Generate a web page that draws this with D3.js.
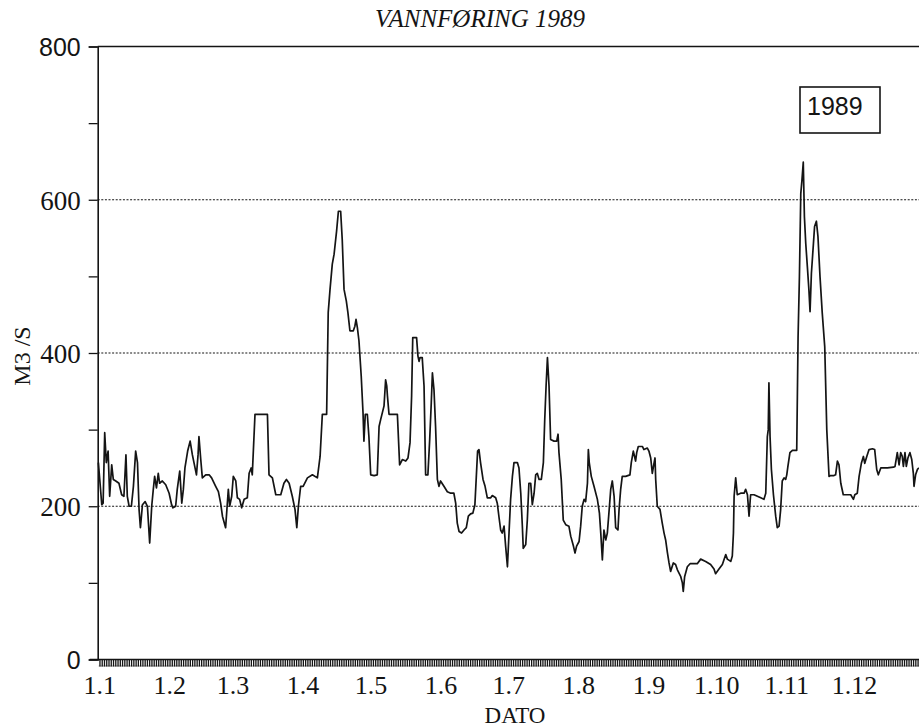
<!DOCTYPE html>
<html>
<head>
<meta charset="utf-8">
<script src="https://cdn.jsdelivr.net/npm/d3@7"></script>
<style>
  html, body { margin: 0; padding: 0; background: #fff; }
  svg { display: block; }
</style>
</head>
<body>
<svg id="chart" width="919" height="728"></svg>
<script>
// ---- data (day of year 1989, daily discharge m3/s) ----
const days = [
  0.3,0.9,1.8,2.4,3.1,3.8,4.6,5.3,6.2,6.9,8.0,9.4,10.6,11.6,12.5,13.1,13.9,14.9,15.8,16.8,
  17.6,18.3,18.9,19.8,21.0,22.0,23.0,23.9,24.6,25.2,26.0,26.8,27.4,28.6,30.1,31.6,32.7,33.3,34.5,35.2,
  36.3,37.2,37.9,38.6,39.8,40.9,41.9,42.8,43.7,44.4,44.8,45.6,46.3,47.8,49.3,50.4,52.2,53.4,54.4,55.2,
  56.6,57.8,58.4,59.3,60.0,61.1,61.8,62.8,63.7,64.8,66.2,67.0,67.9,68.4,69.6,75.1,75.8,77.3,78.8,81.0,
  82.4,83.5,84.7,86.1,87.3,88.1,88.8,89.8,90.9,
  92.8,95.0,97.2,98.4,99.4,101.3,102.0,102.8,103.8,104.6,105.7,106.5,107.5,108.2,109.0,110.0,110.7,111.6,
  113.1,113.8,114.3,114.9,115.6,116.6,117.4,117.8,118.4,119.3,120.0,120.8,122.3,123.7,124.5,125.2,126.7,
  127.4,127.9,128.2,128.9,132.6,133.6,134.8,136.3,137.3,138.2,138.9,139.4,141.1,141.7,142.2,142.6,143.6,
  144.4,145.1,146.1,146.9,147.6,148.1,148.8,149.5,
  150.3,151.0,151.7,153.2,154.7,156.2,157.6,158.4,159.1,159.9,161.0,162.1,163.1,164.0,165.0,166.0,166.9,
  167.5,168.1,168.7,169.4,170.5,171.4,172.4,173.9,174.6,176.1,176.8,177.6,
  178.3,179.0,179.8,180.5,181.3,182.0,182.7,183.5,184.2,185.7,186.4,187.2,187.9,188.3,189.4,190.1,190.8,
  191.6,192.3,193.1,193.8,194.5,195.3,196.3,197.2,197.8,198.4,199.0,199.7,200.4,201.9,203.1,203.7,204.1,
  205.1,206.0,207.1,208.5,209.3,210.5,211.2,211.9,213.0,213.7,214.4,215.2,215.9,216.7,217.1,217.5,218.4,
  219.6,221.1,222.0,222.6,223.3,224.0,224.8,225.5,226.2,227.0,227.7,228.5,229.2,230.2,230.7,231.4,232.1,
  233.6,235.5,236.1,237.0,237.7,238.0,238.5,239.2,241.0,241.7,243.2,243.9,244.7,245.4,246.2,246.6,246.9,
  247.6,248.8,249.8,250.6,251.3,252.1,252.8,253.5,254.7,255.7,256.5,258.0,258.7,259.1,259.7,260.9,262.1,265.3,
  266.8,269.0,271.2,272.7,273.4,274.9,276.4,277.9,278.6,280.1,280.8,281.3,281.6,282.3,283.0,284.5,286.0,
  286.7,287.5,288.2,288.9,290.4,291.9,293.4,294.8,295.6,296.3,296.7,297.0,297.5,298.1,299.0,300.0,300.7,
  301.5,302.2,302.9,303.7,304.4,304.9,305.4,306.3,307.4,309.3,309.9,310.5,311.1,311.6,312.2,312.7,313.3,
  314.0,314.7,315.2,315.8,316.7,317.2,318.0,318.7,319.6,320.6,321.7,322.6,323.6,324.3,325.8,326.5,327.3,
  328.0,328.8,329.9,331.7,333.2,334.4,335.0,336.1,336.9,337.9,338.8,339.4,340.3,341.3,342.8,343.8,344.7,
  345.4,346.5,349.4,352.1,352.8,353.8,354.6,355.3,356.0,356.5,357.2,357.8,358.5,359.4,360.2,360.9,361.2,
  361.9,362.7,363.4
];
const flow = [
  257,235,202,204,296,257,272,213,254,235,233,230,215,213,267,213,200,200,226,272,
  257,196,172,202,206,200,152,200,222,239,224,243,230,233,228,217,202,198,200,222,
  246,204,222,250,272,285,267,254,241,267,291,261,237,241,241,237,226,219,204,187,
  172,222,200,213,239,233,211,209,198,209,211,243,250,241,320,320,241,237,215,215,
  230,235,230,213,196,172,200,226,226,
  237,241,237,265,320,320,453,483,516,529,559,585,585,548,483,468,453,429,
  429,435,444,433,416,370,322,285,320,320,291,241,240,241,304,313,331,
  365,357,344,320,320,254,261,259,263,283,344,420,420,396,389,394,394,
  357,241,241,287,335,374,352,304,
  235,226,233,226,219,217,217,204,178,167,165,169,172,187,190,191,202,
  237,272,274,257,235,226,211,211,214,211,204,185,
  169,165,174,148,121,165,209,239,257,257,250,217,174,145,150,182,230,
  230,202,217,241,243,235,235,257,313,357,394,357,287,285,285,294,270,
  235,182,176,174,161,148,139,148,154,174,200,209,206,230,274,257,239,
  226,209,191,165,130,169,156,165,191,222,233,213,172,169,196,222,239,
  239,241,257,272,263,259,270,278,278,274,276,272,263,243,257,263,235,
  200,196,178,165,156,139,126,115,126,124,117,108,100,89,108,121,125,125,
  131,128,124,118,112,118,124,137,131,128,135,165,213,237,215,217,217,
  222,215,187,215,215,213,211,209,217,291,300,361,291,248,215,187,172,
  174,196,233,237,235,241,252,270,273,273,421,500,608,625,649,578,543,
  513,482,454,504,543,565,572,552,500,452,408,300,239,240,240,241,259,
  254,230,215,215,215,209,215,217,239,256,265,256,265,274,275,274,248,
  241,250,250,251,252,270,254,270,265,252,270,252,263,270,261,243,226,
  241,248,250
];
const monthStartDays = [0,31,59,90,120,151,181,212,243,273,304,334];
const monthLabels = ["1.1","1.2","1.3","1.4","1.5","1.6","1.7","1.8","1.9","1.10","1.11","1.12"];
const yTickValues = [0,100,200,300,400,500,600,700,800];
const yLabelValues = [0,200,400,600,800];
const gridValues = [200,400,600];
const titleText = "VANNFØRING 1989";
const xTitle = "DATO";
const yTitle = "M3 /S";
const legendText = "1989";

// ---- drawing ----
const svg = d3.select("#chart");
svg.append("rect").attr("width",919).attr("height",728).attr("fill","#fff");

const x = d3.scaleLinear().domain([0,365]).range([97.7, 922.6]);
const y = d3.scaleLinear().domain([0,800]).range([659.5, 46.5]);

const ink = "#141414";

// dotted gridlines
svg.append("g").selectAll("line").data(gridValues).join("line")
  .attr("x1", x(0)).attr("x2", 919)
  .attr("y1", d=>y(d)).attr("y2", d=>y(d))
  .attr("stroke", ink).attr("stroke-width", 1.1)
  .attr("stroke-dasharray", "2,1.6");

// top 800 line (solid)
svg.append("line").attr("x1", x(0)).attr("x2", 919)
  .attr("y1", y(800)).attr("y2", y(800))
  .attr("stroke", ink).attr("stroke-width", 1.6);

// y axis with ticks
const yAxis = d3.axisLeft(y).tickValues(yTickValues).tickSize(9).tickPadding(8)
  .tickFormat(d => yLabelValues.includes(d) ? String(d) : "");
const gy = svg.append("g").attr("transform", `translate(${x(0)},0)`).call(yAxis);
gy.select(".domain").attr("stroke", ink).attr("stroke-width", 1.6);
gy.selectAll(".tick line").attr("stroke", ink).attr("stroke-width", 1.3);
gy.selectAll(".tick text")
  .attr("fill", ink)
  .style("font-family", d => (d===800||d===0) ? "'Liberation Sans', Arial, sans-serif" : "'Liberation Serif', 'Times New Roman', serif")
  .style("font-size", d => (d===800||d===0) ? "25px" : "27px")
  .attr("dy", "0.36em");

// x axis line
svg.append("line").attr("x1", x(0) - 8).attr("x2", 919)
  .attr("y1", y(0)).attr("y2", y(0))
  .attr("stroke", ink).attr("stroke-width", 1.6);

// daily tick band
svg.append("g").selectAll("line").data(d3.range(1, 366)).join("line")
  .attr("x1", d=>x(d)).attr("x2", d=>x(d))
  .attr("y1", y(0)).attr("y2", y(0) + 7)
  .attr("stroke", ink).attr("stroke-width", 1.3);
svg.append("line").attr("x1", x(0)+1).attr("x2", 919)
  .attr("y1", y(0)+6.5).attr("y2", y(0)+6.5)
  .attr("stroke", ink).attr("stroke-width", 0.8).attr("opacity", 0.6);

// month labels
svg.append("g").selectAll("text").data(monthStartDays).join("text")
  .attr("x", d=>x(d) + 2).attr("y", 694)
  .attr("text-anchor", "middle")
  .attr("fill", ink)
  .style("font-family", "'Liberation Serif', 'Times New Roman', serif")
  .style("font-size", "26px")
  .text((d,i)=>monthLabels[i]);

// axis titles
svg.append("text").attr("x", 515).attr("y", 723)
  .attr("text-anchor", "middle").attr("fill", ink)
  .style("font-family", "'Liberation Serif', 'Times New Roman', serif")
  .style("font-size", "23px")
  .text(xTitle);

svg.append("text")
  .attr("transform", "translate(30,356) rotate(-90)")
  .attr("text-anchor", "middle").attr("fill", ink)
  .style("font-family", "'Liberation Serif', 'Times New Roman', serif")
  .style("font-size", "24px")
  .text(yTitle);

// title
svg.append("text").attr("x", 480).attr("y", 27)
  .attr("text-anchor", "middle").attr("fill", ink)
  .style("font-family", "'Liberation Serif', 'Times New Roman', serif")
  .style("font-style", "italic")
  .style("font-size", "25px")
  .text(titleText);

// data line
const series = days.map((d,i)=>({day:d, v:flow[i]}));
const line = d3.line().x(d=>x(d.day)).y(d=>y(d.v));
svg.append("path").datum(series)
  .attr("d", line)
  .attr("fill", "none")
  .attr("stroke", ink)
  .attr("stroke-width", 1.7)
  .attr("stroke-linejoin", "round");

// legend box
svg.append("rect").attr("x", 800).attr("y", 87).attr("width", 80).attr("height", 46)
  .attr("fill", "#fff").attr("stroke", ink).attr("stroke-width", 1.6);
svg.append("text").attr("x", 807).attr("y", 115)
  .attr("fill", ink)
  .style("font-family", "'Liberation Sans', Arial, sans-serif")
  .style("font-size", "25px")
  .text(legendText);
</script>
</body>
</html>
